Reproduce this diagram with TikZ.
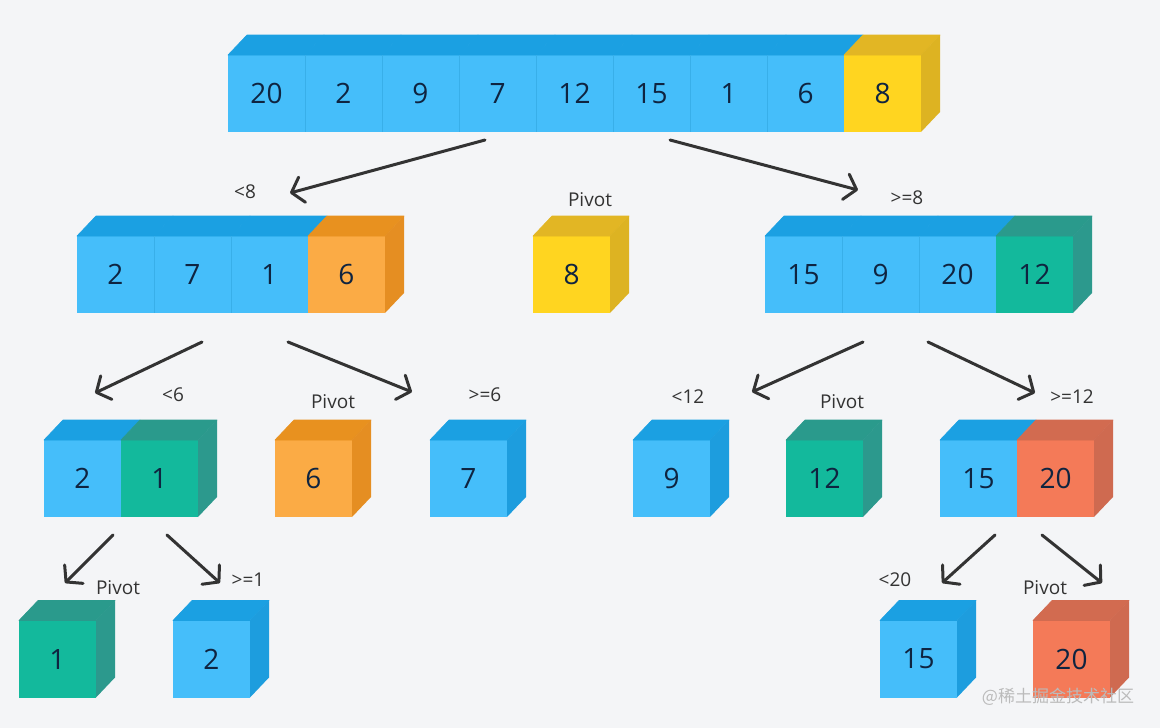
\documentclass[tikz,border=0pt]{standalone}
\usepackage{fontspec}
\setmainfont{Open Sans}
\newfontfamily\cjk{Noto Sans CJK SC}
\usetikzlibrary{arrows.meta,calc}
\definecolor{bg}{HTML}{F4F5F7}
\definecolor{blueF}{HTML}{45BEFA}
\definecolor{blueT}{HTML}{1BA0E2}
\definecolor{blueS}{HTML}{1D9DDE}
\definecolor{yelF}{HTML}{FFD520}
\definecolor{yelT}{HTML}{E2B624}
\definecolor{yelS}{HTML}{DDB322}
\definecolor{oraF}{HTML}{FBAB45}
\definecolor{oraT}{HTML}{E8911F}
\definecolor{oraS}{HTML}{E58E22}
\definecolor{tealF}{HTML}{13B99C}
\definecolor{tealT}{HTML}{2A9A8C}
\definecolor{tealS}{HTML}{2C998D}
\definecolor{redF}{HTML}{F47A58}
\definecolor{redT}{HTML}{D26B50}
\definecolor{redS}{HTML}{CF6A50}
\definecolor{divc}{HTML}{38AFE9}
\definecolor{numtxt}{HTML}{0F2440}
\definecolor{lbltxt}{HTML}{333333}
\definecolor{arrowc}{HTML}{333333}
\definecolor{wmark}{HTML}{BBBBBB}
\tikzset{
  cellbox/.style={minimum width=77pt,minimum height=77pt,inner sep=0pt,outer sep=0pt,
    text=numtxt,font=\fontsize{28}{30}\selectfont},
  lbl/.style={text=lbltxt,font=\fontsize{19}{21}\selectfont,inner sep=1pt},
  arr/.style={draw=arrowc,line width=3pt,line cap=round,line join=round,
    -{Straight Barb[length=11pt,width=26pt,round]}},
  divline/.style={draw=divc,line width=0.6pt}
}
% name, x, y, colour prefix, text
\newcommand\cellF[5]{%
  \node[cellbox,fill=#4F] (#1) at (#2,#3) {#5};
  \filldraw[fill=#4T,draw=#4T,line width=0.6pt,line join=round] (#1.north west) -- ++(19,-20) -- ($(#1.north east)+(19,-20)$) -- (#1.north east) -- cycle;
}
% name, colour prefix
\newcommand\cellS[2]{%
  \fill[#2S] (#1.north east) -- ++(19,-20) -- ++(0,77) -- (#1.south east) -- cycle;
}
\begin{document}
\begin{tikzpicture}[x=1pt,y=-1pt]
\fill[bg] (0,0) rectangle (1160,728);
\useasboundingbox (0,0) rectangle (1160,728);

% ---- level 1
\cellF{a1}{266.5}{93.5}{blue}{20}
\cellF{a2}{343.5}{93.5}{blue}{2}
\cellF{a3}{420.5}{93.5}{blue}{9}
\cellF{a4}{497.5}{93.5}{blue}{7}
\cellF{a5}{574.5}{93.5}{blue}{12}
\cellF{a6}{651.5}{93.5}{blue}{15}
\cellF{a7}{728.5}{93.5}{blue}{1}
\cellF{a8}{805.5}{93.5}{blue}{6}
\cellF{a9}{882.5}{93.5}{yel}{8}
\cellS{a9}{yel}
\foreach \n in {a1,a2,a3,a4,a5,a6,a7}{\draw[divline] (\n.north east) -- (\n.south east);}

% ---- level 2
\cellF{b1}{115.5}{274.5}{blue}{2}
\cellF{b2}{192.5}{274.5}{blue}{7}
\cellF{b3}{269.5}{274.5}{blue}{1}
\cellF{b4}{346.5}{274.5}{ora}{6}
\cellS{b4}{ora}
\foreach \n in {b1,b2}{\draw[divline] (\n.north east) -- (\n.south east);}

\cellF{p8}{571.5}{274.5}{yel}{8}
\cellS{p8}{yel}

\cellF{c1}{803.5}{274.5}{blue}{15}
\cellF{c2}{880.5}{274.5}{blue}{9}
\cellF{c3}{957.5}{274.5}{blue}{20}
\cellF{c4}{1034.5}{274.5}{teal}{12}
\cellS{c4}{teal}
\foreach \n in {c1,c2}{\draw[divline] (\n.north east) -- (\n.south east);}

% ---- level 3
\cellF{d1}{82.5}{478.5}{blue}{2}
\cellF{d2}{159.5}{478.5}{teal}{1}
\cellS{d2}{teal}
\cellF{p6}{313.5}{478.5}{ora}{6}
\cellS{p6}{ora}
\cellF{e1}{468.5}{478.5}{blue}{7}
\cellS{e1}{blue}
\cellF{f1}{671.5}{478.5}{blue}{9}
\cellS{f1}{blue}
\cellF{p12}{824.5}{478.5}{teal}{12}
\cellS{p12}{teal}
\cellF{g1}{978.5}{478.5}{blue}{15}
\cellF{g2}{1055.5}{478.5}{red}{20}
\cellS{g2}{red}

% ---- level 4
\cellF{p1}{57.5}{659}{teal}{1}
\cellS{p1}{teal}
\cellF{h1}{211.5}{659}{blue}{2}
\cellS{h1}{blue}
\cellF{i1}{918.5}{659}{blue}{15}
\cellS{i1}{blue}
\cellF{p20}{1071.5}{659}{red}{20}
\cellS{p20}{red}

% ---- labels
\node[lbl] (l1) at (245,192) {<8};
\node[lbl] (l2) at (590,200) {Pivot};
\node[lbl] (l3) at (907,198) {>=8};
\node[lbl] (l4) at (173,395) {<6};
\node[lbl] (l5) at (333,402) {Pivot};
\node[lbl] (l6) at (485,395) {>=6};
\node[lbl] (l7) at (688,397) {<12};
\node[lbl] (l8) at (842,402) {Pivot};
\node[lbl] (l9) at (1072,397) {>=12};
\node[lbl] (l10) at (118,588) {Pivot};
\node[lbl] (l11) at (248,580) {>=1};
\node[lbl] (l12) at (895,580) {<20};
\node[lbl] (l13) at (1045,588) {Pivot};

% ---- arrows
\coordinate (s1) at (485,140); \coordinate (t1) at (290,193);
\coordinate (s2) at (670,140); \coordinate (t2) at (858,190);
\coordinate (s3) at (202,342); \coordinate (t3) at (95,393);
\coordinate (s4) at (288,342); \coordinate (t4) at (412,392);
\coordinate (s5) at (863,342); \coordinate (t5) at (752,392);
\coordinate (s6) at (928,342); \coordinate (t6) at (1035,393);
\coordinate (s7) at (113,535); \coordinate (t7) at (65,583);
\coordinate (s8) at (167,535); \coordinate (t8) at (220,583);
\coordinate (s9) at (995,535); \coordinate (t9) at (942,583);
\coordinate (s10) at (1042,535); \coordinate (t10) at (1102,583);
\foreach \k in {1,...,10}{\draw[arr] (s\k) -- (t\k);}

% ---- watermark
\node[text=wmark,font=\cjk\fontsize{17}{19}\selectfont,inner sep=0pt] (wm) at (1058,697) {@稀土掘金技术社区};
\end{tikzpicture}
\end{document}
